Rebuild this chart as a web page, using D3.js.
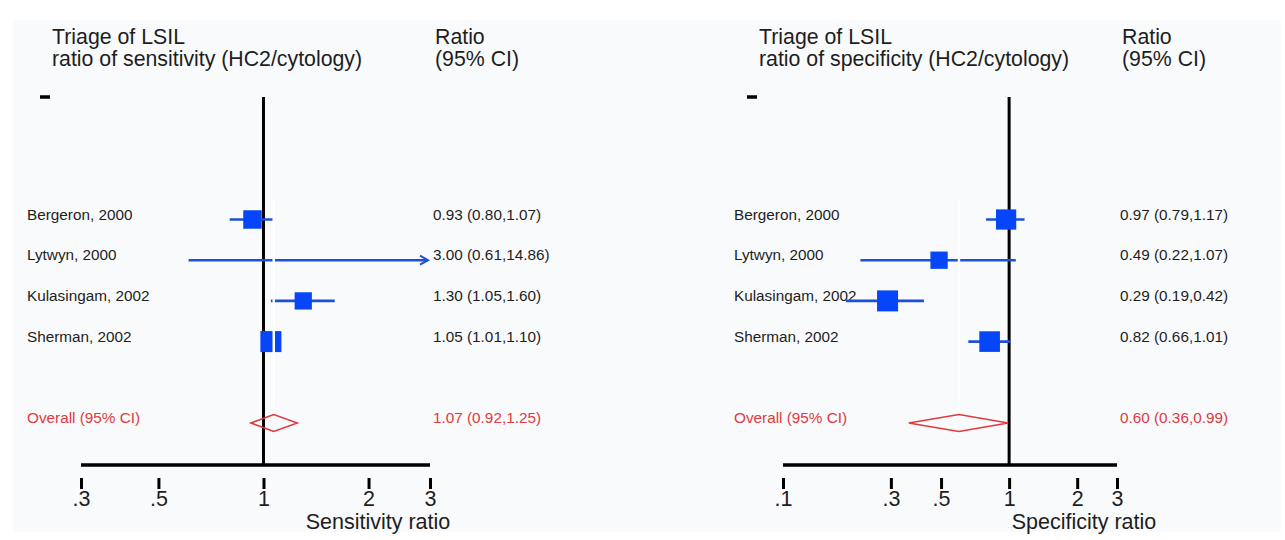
<!doctype html>
<html lang="en">
<head>
<meta charset="utf-8">
<title>Triage of LSIL - forest plots</title>
<script src="https://d3js.org/d3.v7.min.js"></script>
<style>
  html, body { margin: 0; padding: 0; background: #fff; }
  svg { display: block; font-family: "Liberation Sans", Arial, sans-serif; }
</style>
</head>
<body>
<svg id="chart" width="1285" height="540"></svg>
<script>
// ---- data ----
const studies = ["Bergeron, 2000", "Lytwyn, 2000", "Kulasingam, 2002", "Sherman, 2002"];

const sensEst = [0.93, 3.00, 1.30, 1.05];
const sensLo = [0.80, 0.61, 1.05, 1.01];
const sensHi = [1.07, 14.86, 1.60, 1.10];
const sensWeight = [31, 2, 27, 40];
const sensOverall = [1.07, 0.92, 1.25];
const sensTicks = [0.3, 0.5, 1, 2, 3];

const specEst = [0.97, 0.49, 0.29, 0.82];
const specLo = [0.79, 0.22, 0.19, 0.66];
const specHi = [1.17, 1.07, 0.42, 1.01];
const specWeight = [26, 19, 28, 27];
const specOverall = [0.60, 0.36, 0.99];
const specTicks = [0.1, 0.3, 0.5, 1, 2, 3];

const tickLabels = { 0.1: ".1", 0.3: ".3", 0.5: ".5", 1: "1", 2: "2", 3: "3" };

const panels = [
  { title: "ratio of sensitivity (HC2/cytology)", axisTitle: "Sensitivity ratio",
    est: sensEst, lo: sensLo, hi: sensHi, w: sensWeight, overall: sensOverall, ticks: sensTicks,
    x0: 81, x1: 430, left: 0, titleX: 378 },
  { title: "ratio of specificity (HC2/cytology)", axisTitle: "Specificity ratio",
    est: specEst, lo: specLo, hi: specHi, w: specWeight, overall: specOverall, ticks: specTicks,
    x0: 783, x1: 1117, left: 707, titleX: 1084 }
];

const svg = d3.select("#chart");
const fmt = d3.format(".2f");
const blue = "#0646f8", lineBlue = "#1d4fd8", red = "#e0393e", ink = "#1e1e1e";

// faint plot background
svg.append("rect").attr("x", 13).attr("y", 20).attr("width", 1268).attr("height", 512)
  .attr("fill", "#f9fafb");

const y = d3.scaleLinear().domain([0, 5]).range([219.5, 423]);
const plotTop = 97, axisY = 465;

panels.forEach(p => {
  const dom = d3.extent(p.ticks);
  const x = d3.scaleLog().domain(dom).range([p.x0, p.x1]);
  const box = d3.scaleSqrt().domain([0, d3.max(p.w)]).range([0, 21]);
  const g = svg.append("g");
  const L = p.left;
  const rx = p.x1 + 3;

  // headers
  const head = g.append("g").attr("font-size", 21.3).attr("fill", ink);
  head.append("text").attr("x", L + 52).attr("y", 43.5).text("Triage of LSIL");
  head.append("text").attr("x", L + 52).attr("y", 66).text(p.title);
  head.append("text").attr("x", rx + 2).attr("y", 43.5).text("Ratio");
  head.append("text").attr("x", rx + 2).attr("y", 66).text("(95% CI)");

  // small stray mark at top
  g.append("line").attr("x1", L + 40).attr("x2", L + 50).attr("y1", plotTop).attr("y2", plotTop)
    .attr("stroke", "#000").attr("stroke-width", 3.5);

  // null line
  g.append("line").attr("x1", x(1)).attr("x2", x(1)).attr("y1", plotTop).attr("y2", axisY)
    .attr("stroke", "#000").attr("stroke-width", 3);

  // studies
  studies.forEach((s, i) => {
    const yy = y(i);
    g.append("text").attr("x", L + 27).attr("y", yy)
      .attr("font-size", 15.3).attr("fill", ink).text(s);
    g.append("text").attr("x", rx).attr("y", yy)
      .attr("font-size", 15.3).attr("fill", ink)
      .text(`${fmt(p.est[i])} (${fmt(p.lo[i])},${fmt(p.hi[i])})`);

    const clipped = p.hi[i] > dom[1];
    const xa = x(Math.max(p.lo[i], dom[0]));
    const xb = clipped ? x(dom[1]) - 2 : x(p.hi[i]);
    g.append("line").attr("x1", xa).attr("x2", xb).attr("y1", yy).attr("y2", yy)
      .attr("stroke", lineBlue).attr("stroke-width", 2.6);
    if (clipped) {
      g.append("path").attr("d", `M${xb - 8},${yy - 4.5}L${xb},${yy}L${xb - 8},${yy + 4.5}`)
        .attr("fill", "none").attr("stroke", lineBlue).attr("stroke-width", 2);
    }
    if (p.est[i] < dom[1]) {
      const b = box(p.w[i]);
      g.append("rect").attr("x", x(p.est[i]) - b / 2).attr("y", yy - b / 2)
        .attr("width", b).attr("height", b).attr("fill", blue);
    }
  });

  // overall
  const [oe, ol, oh] = p.overall;
  const yo = y(5), h = 8.5;
  // line at pooled estimate (rendered white in the original)
  g.append("line").attr("x1", x(oe)).attr("x2", x(oe)).attr("y1", y(0) - 20).attr("y2", yo - h)
    .attr("stroke", "#fff").attr("stroke-width", 2.5);
  g.append("path")
    .attr("d", `M${x(ol)},${yo}L${x(oe)},${yo - h}L${x(oh)},${yo}L${x(oe)},${yo + h}Z`)
    .attr("fill", "none").attr("stroke", red).attr("stroke-width", 1.5);
  g.append("text").attr("x", L + 27).attr("y", yo)
    .attr("font-size", 15.3).attr("fill", red).text("Overall (95% CI)");
  g.append("text").attr("x", rx).attr("y", yo)
    .attr("font-size", 15.3).attr("fill", red).text(`${fmt(oe)} (${fmt(ol)},${fmt(oh)})`);

  // axis
  g.append("line").attr("x1", x(dom[0])).attr("x2", x(dom[1])).attr("y1", axisY).attr("y2", axisY)
    .attr("stroke", "#000").attr("stroke-width", 3.5);
  const ax = g.append("g").attr("transform", `translate(0,${axisY + 13})`)
    .call(d3.axisBottom(x).tickValues(p.ticks).tickSize(11).tickPadding(2)
      .tickFormat(d => tickLabels[d]));
  ax.select(".domain").remove();
  ax.selectAll(".tick line").attr("stroke", "#000").attr("stroke-width", 3);
  ax.selectAll(".tick text").attr("font-size", 21.5).attr("fill", ink)
    .attr("font-family", "'Liberation Sans', Arial, sans-serif");

  g.append("text").attr("x", p.titleX).attr("y", 529)
    .attr("text-anchor", "middle").attr("font-size", 21.5).attr("fill", ink).text(p.axisTitle);
});
</script>
</body>
</html>
